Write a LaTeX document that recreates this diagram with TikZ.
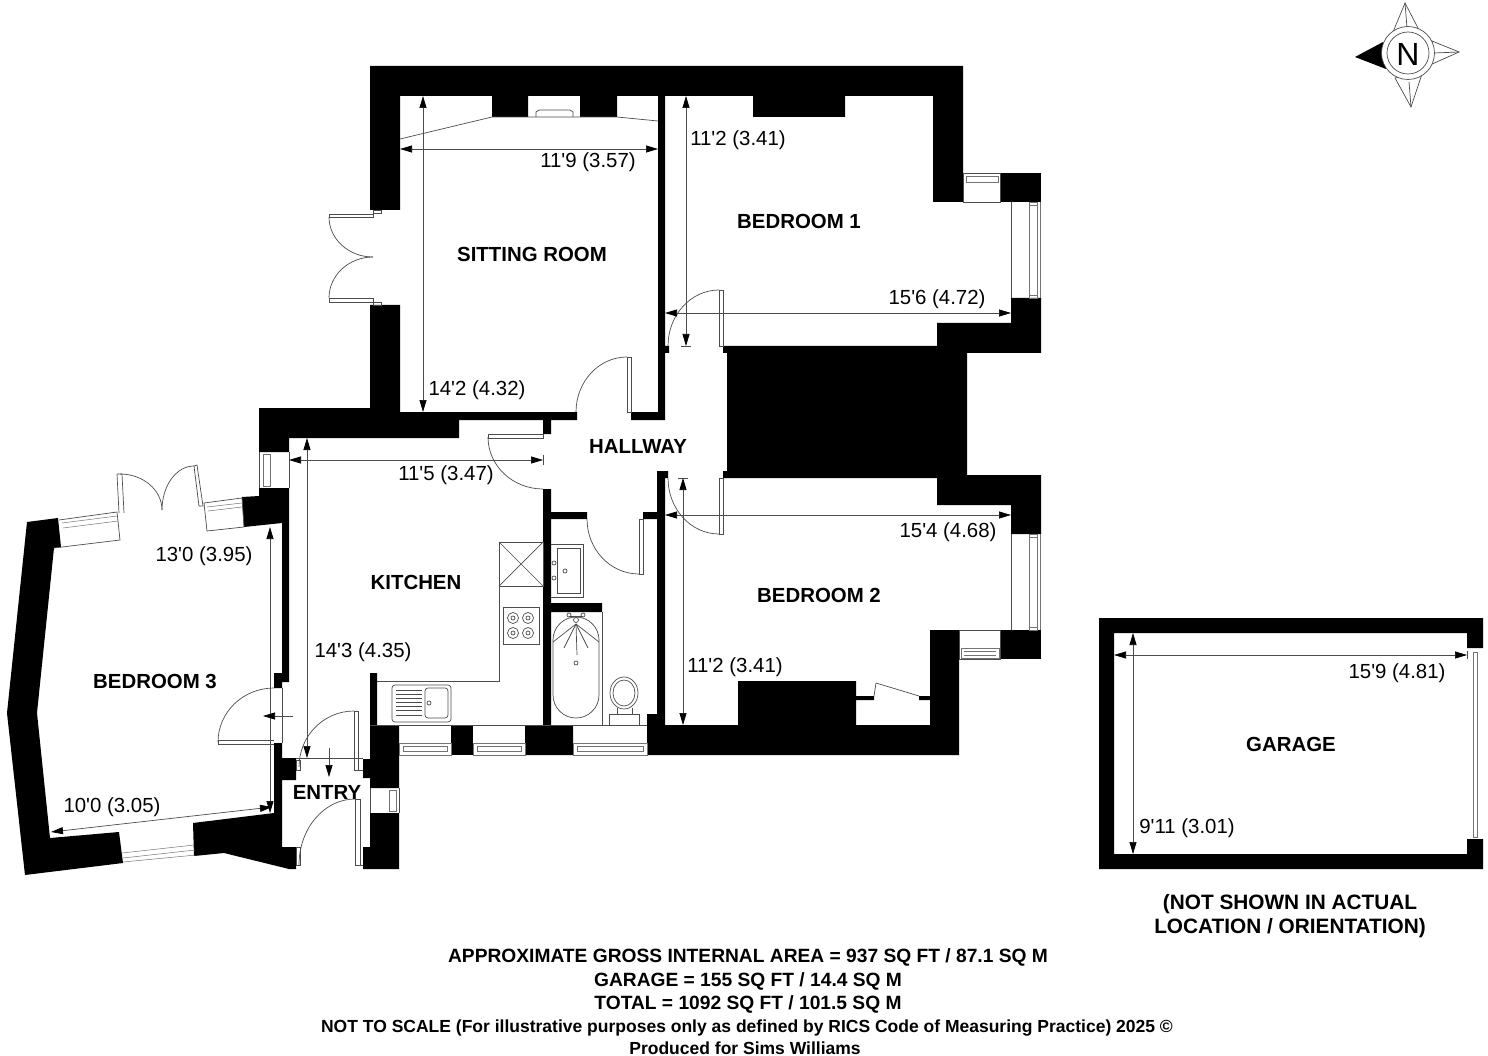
\documentclass[tikz,border=0pt]{standalone}
\usepackage{fontspec}
\setmainfont{Liberation Sans}
\usetikzlibrary{arrows.meta}
\newcommand{\ft}{\textquotesingle}
\tikzset{
	wall/.style={fill=black,draw=none},
	plan/.style={draw=black!70,line width=0.7pt},
	glazing/.style={draw=black!55,line width=0.5pt},
	dimline/.style={draw=black!70,line width=0.7pt,{Triangle[length=12pt,width=7pt,black]}-{Triangle[length=12pt,width=7pt,black]}},
	doorline/.style={draw=black!70,line width=0.7pt,-{Triangle[length=12pt,width=7pt,black]}},
	roomlabel/.style={font=\fontsize{20.4}{24}\bfseries\selectfont,inner sep=0pt},
	dimlabel/.style={font=\fontsize{20.4}{24}\selectfont,inner sep=0pt,yshift=-1.5pt},
	notelabel/.style={font=\fontsize{19.2}{24}\bfseries\selectfont,inner sep=0pt,align=center,yshift=-2pt}
}

\begin{document}
\begin{tikzpicture}[x=1pt,y=-1pt]
	\useasboundingbox (0,0) rectangle (1488,1056);

	\begin{scope}
		\fill[wall] (370,66) -- (963,66) -- (963,202) -- (933,202) -- (933,96) -- (845,96) -- (845,117) -- (753,117) -- (753,96) -- (617,96) -- (617,117) -- (580,117) -- (580,96) -- (528,96) -- (528,117) -- (492,117) -- (492,96) -- (400,96) -- (400,210) -- (370,210) -- cycle;
		\fill[wall] (658,96) -- (665,96) -- (665,346) -- (669,346) -- (669,353) -- (665,353) -- (665,420) -- (631,420) -- (631,412) -- (658,412) -- cycle;
		\fill[wall] (370,305) -- (400,305) -- (400,412) -- (577,412) -- (577,420) -- (551,420) -- (551,434) -- (543,434) -- (543,420) -- (459,420) -- (459,438) -- (289,438) -- (289,452) -- (259,452) -- (259,408) -- (370,408) -- cycle;
		\fill[wall] (723,346) -- (937,346) -- (937,323) -- (1011,323) -- (1011,298) -- (1041,298) -- (1041,353) -- (967,353) -- (967,475) -- (1041,475) -- (1041,534) -- (1011,534) -- (1011,505) -- (937,505) -- (937,478) -- (723,478) -- (723,471) -- (727,471) -- (727,353) -- (723,353) -- cycle;
		\fill[wall] (1000,173) rectangle (1041,202);
		\fill[wall] (1000,630) rectangle (1041,659);
		\fill[wall] (657,471) -- (668,471) -- (668,478) -- (665,478) -- (665,725) -- (738,725) -- (738,681) -- (856,681) -- (856,696) -- (874,696) -- (874,700) -- (856,700) -- (856,725) -- (930,725) -- (930,700) -- (919,700) -- (919,696) -- (930,696) -- (930,630) -- (959,630) -- (959,755) -- (647,755) -- (647,714) -- (657,714) -- (657,519) -- (643,519) -- (643,512) -- (657,512) -- cycle;
		\fill[wall] (543,489) -- (551,489) -- (551,512) -- (587,512) -- (587,519) -- (551,519) -- (551,603) -- (602,603) -- (602,612) -- (551,612) -- (551,725) -- (573,725) -- (573,755) -- (525,755) -- (525,725) -- (543,725) -- cycle;
		\fill[wall] (451,725) rectangle (473,755);
		\fill[wall] (370,673) -- (377,673) -- (377,725) -- (399,725) -- (399,788) -- (370,788) -- (370,778) -- (363,778) -- (363,759) -- (370,759) -- cycle;
		\fill[wall] (370,813) -- (399,813) -- (399,869) -- (363,869) -- (363,847) -- (370,847) -- cycle;
		\fill[wall] (259,488) -- (289,488) -- (289,682) -- (282,682) -- (282,688) -- (274,688) -- (274,673) -- (282,673) -- (282,523) -- (244,527) -- (242,497) -- (259,496) -- cycle;
		\fill[wall] (274,743) -- (282,743) -- (282,758) -- (296,758) -- (296,780) -- (282,780) -- (282,847) -- (296,847) -- (296,869) -- (289,869) -- (224,853) -- (194,856) -- (193,823) -- (274,813) -- cycle;
		\fill[wall] (27,522) -- (58,518) -- (61,547) -- (54,548) -- (37,713) -- (50,838) -- (119,832) -- (123,863) -- (25,875) -- (7,713) -- cycle;
		\fill[wall,even odd rule] (1099,618) -- (1483,618) -- (1483,648) -- (1467,648) -- (1467,633) -- (1114,633) -- (1114,854) -- (1467,854) -- (1467,839) -- (1483,839) -- (1483,869) -- (1099,869) -- cycle;
	\end{scope}

	\begin{scope}[every path/.style={plan}]
		\draw (400,139) -- (492,117) -- (617,117) -- (658,121);
		\draw (536,117) -- (536,112) to[bend left=20] (539,110) -- (570,110) to[bend left=20] (573,112) -- (573,117);

		\draw (329,214) rectangle (373,217);
		\draw (373,210) rectangle (381,213);
		\draw (329,298) rectangle (373,302);
		\draw (373,302) rectangle (381,305);
		\draw (329,217) arc[start angle=180,end angle=90,x radius=44,y radius=40];
		\draw (329,298) arc[start angle=180,end angle=270,x radius=44,y radius=41];

		\draw (627,357) rectangle (631,412);
		\draw (576,412) arc[start angle=180,end angle=270,x radius=51,y radius=55];
		\draw (719,290) rectangle (723,346);
		\draw (668,346) arc[start angle=180,end angle=270,x radius=51,y radius=56];
		\draw (719,478) rectangle (723,534);
		\draw (668,478) arc[start angle=180,end angle=90,x radius=51,y radius=56];
		\draw (639,519) rectangle (643,574);
		\draw (587,519) arc[start angle=180,end angle=90,x radius=52,y radius=55];
		\draw (488,434) rectangle (543,438);
		\draw (488,437) arc[start angle=180,end angle=90,x radius=55,y radius=52];

		\draw (963,173) rectangle (1000,202);
		\draw[glazing] (966,176) rectangle (998,182);
		\draw (1011,202) -- (1011,298);
		\draw[glazing] (1029,202) rectangle (1037,298);
		\draw[glazing] (1029,205) -- (1037,205) (1029,295) -- (1037,295);
		\draw[glazing] (1040,202) -- (1040,298);
		\draw (1011,534) -- (1011,630);
		\draw[glazing] (1029,534) rectangle (1037,630);
		\draw[glazing] (1029,537) -- (1037,537) (1029,627) -- (1037,627);
		\draw[glazing] (1040,534) -- (1040,630);
		\draw (959,630) rectangle (1000,659);
		\draw[glazing] (961,648) rectangle (999,658);
		\draw[glazing] (964,651) -- (996,651) (964,655) -- (996,655);

		\draw (876,683) -- (919,696);
		\draw (874,696) -- (876,683);

		\draw (370,725) -- (647,725);
		\draw[glazing] (399,743) rectangle (451,755);
		\draw[glazing] (403,746) rectangle (447,751);
		\draw[glazing] (473,743) rectangle (525,755);
		\draw[glazing] (477,746) rectangle (521,751);
		\draw[glazing] (573,743) rectangle (647,755);
		\draw[glazing] (577,746) rectangle (643,751);

		\draw (377,681) -- (499,681) -- (499,542);
		\draw (499,542) rectangle (543,586);
		\draw (499,542) -- (543,586) (499,586) -- (543,542);
		\draw (503,607) rectangle (539,644);
		\foreach \bx in {513,528}
			\foreach \by in {618,633} {
				\draw (\bx,\by) circle[radius=5.5];
				\draw (\bx,\by) circle[radius=2];
			}
		\draw[rounded corners=3pt] (392,685) rectangle (451,722);
		\draw[rounded corners=3pt] (425,688) rectangle (448,718);
		\foreach \ry in {690,694,698,702,706,710,715}
			\draw (396,\ry) -- (422,\ry);
		\draw (429,703) circle[radius=2];

		\draw (551,544) -- (583,544) -- (583,597) -- (551,597);
		\draw (557,548) rectangle (580,593);
		\draw (554,563) circle[radius=2];
		\draw (554,578) circle[radius=2];
		\draw (565,571) circle[radius=2];

		\draw (602,612) -- (602,725);
		\draw (553,640) arc[start angle=180,end angle=360,x radius=23,y radius=23] -- (599,695) arc[start angle=0,end angle=180,x radius=23,y radius=23] -- cycle;
		\foreach \sx/\sy in {553/642,564/648,577/655,588/648,599/642}
			\draw (576,624) -- (\sx,\sy);
		\draw (569,616) -- (583,616);
		\draw (569,615) circle[radius=2];
		\draw (583,615) circle[radius=2];
		\draw (576,620) circle[radius=2.5];
		\draw (576,663) circle[radius=2];
		\draw (624,693) circle[x radius=14,y radius=16];
		\draw (624,693) circle[x radius=11,y radius=13];
		\draw (617,708) -- (617,714) (632,708) -- (632,714);
		\draw (609,725) -- (609,714) -- (639,714) -- (639,725);

		\draw (117,474) -- (122,474) -- (124,513);
		\draw (117,474) -- (119,513);
		\draw (120,474) arc[start angle=270,end angle=360,x radius=42,y radius=36];
		\draw (194,466) -- (197,465) -- (203,506) -- (199,506) -- cycle;
		\draw (194,466) arc[start angle=270,end angle=180,x radius=32,y radius=44];
		\draw (59,520) -- (117,512) -- (120,540) -- (54,548);
		\draw[glazing] (62,523) -- (117,516);
		\draw[glazing] (63,528) -- (118,521);
		\draw (204,503) -- (242,498) -- (244,527) -- (207,531) -- cycle;
		\draw[glazing] (207,507) -- (242,503);
		\draw[glazing] (208,511) -- (242,507);
		\draw[glazing] (122,853) -- (194,845);
		\draw[glazing] (123,862) -- (196,855);
		\draw[glazing] (123,858) -- (195,850);

		\draw (218,740) -- (274,740) (218,744) -- (274,744) (218,740) -- (218,744);
		\draw (218,742) arc[start angle=180,end angle=270,x radius=56,y radius=54];
		\draw (282,688) -- (282,743);
		\draw (296,758) -- (363,758);

		\draw (354,711) rectangle (358,770);
		\draw (299,767) arc[start angle=180,end angle=270,x radius=55,y radius=56];
		\draw (296,760) rectangle (300,770);
		\draw (358,770) -- (363,770);
		\draw (355,799) rectangle (360,865);
		\draw (355,799) arc[start angle=270,end angle=180,x radius=56,y radius=66];
		\draw (296,847) rectangle (300,865);
		\draw (360,865) -- (363,865);

		\draw (259,452) -- (259,488) (289,452) -- (289,488);
		\draw[glazing] (263,454) rectangle (270,486);
		\draw (370,788) -- (370,813) (399,788) -- (399,813);
		\draw[glazing] (389,790) rectangle (396,811);

		\draw[glazing] (1473,652) rectangle (1477,837);
		\draw (1467,651) -- (1467,659);
		\draw (543,455) -- (543,465);
		\draw (681,346) -- (691,346);
		\draw (678,478) -- (688,478);
	\end{scope}

	\begin{scope}
		\coordinate (sitv1) at (423,96);
		\coordinate (sitv2) at (423,412);
		\coordinate (sith1) at (400,149);
		\coordinate (sith2) at (658,149);
		\coordinate (bedav1) at (686,96);
		\coordinate (bedav2) at (686,346);
		\coordinate (bedah1) at (665,313);
		\coordinate (bedah2) at (1011,313);
		\coordinate (bedbv1) at (683,478);
		\coordinate (bedbv2) at (683,725);
		\coordinate (bedbh1) at (665,515);
		\coordinate (bedbh2) at (1011,515);
		\coordinate (kitv1) at (307,438);
		\coordinate (kitv2) at (307,758);
		\coordinate (kith1) at (289,460);
		\coordinate (kith2) at (543,460);
		\coordinate (bedcv1) at (270,527);
		\coordinate (bedcv2) at (270,813);
		\coordinate (bedch1) at (51,832);
		\coordinate (bedch2) at (272,807);
		\coordinate (garv1) at (1133,633);
		\coordinate (garv2) at (1133,854);
		\coordinate (garh1) at (1114,655);
		\coordinate (garh2) at (1467,655);
		\coordinate (doora1) at (293,716);
		\coordinate (doora2) at (263,716);
		\coordinate (doorb1) at (329,748);
		\coordinate (doorb2) at (329,777);

		\path (sitv1) edge[dimline] (sitv2);
		\path (sith1) edge[dimline] (sith2);
		\path (bedav1) edge[dimline] (bedav2);
		\path (bedah1) edge[dimline] (bedah2);
		\path (bedbv1) edge[dimline] (bedbv2);
		\path (bedbh1) edge[dimline] (bedbh2);
		\path (kitv1) edge[dimline] (kitv2);
		\path (kith1) edge[dimline] (kith2);
		\path (bedcv1) edge[dimline] (bedcv2);
		\path (bedch1) edge[dimline] (bedch2);
		\path (garv1) edge[dimline] (garv2);
		\path (garh1) edge[dimline] (garh2);
		\path (doora1) edge[doorline] (doora2);
		\path (doorb1) edge[doorline] (doorb2);
	\end{scope}

	\begin{scope}[every node/.style={roomlabel}]
		\node (sitname) at (532,254) {SITTING ROOM};
		\node (bedaname) at (799,221) {BEDROOM 1};
		\node (hallname) at (638,446) {HALLWAY};
		\node (kitname) at (416,582) {KITCHEN};
		\node (bedbname) at (819,595) {BEDROOM 2};
		\node (bedcname) at (155,681) {BEDROOM 3};
		\node (entname) at (327,792) {ENTRY};
		\node (garname) at (1291,744) {GARAGE};
	\end{scope}

	\begin{scope}[every node/.style={dimlabel}]
		\node (sitw) at (588,161) {11\ft9 (3.57)};
		\node (sitl) at (477,389) {14\ft2 (4.32)};
		\node (bedal) at (738,139) {11\ft2 (3.41)};
		\node (bedaw) at (937,298) {15\ft6 (4.72)};
		\node (bedbw) at (948,531) {15\ft4 (4.68)};
		\node (bedbl) at (735,666) {11\ft2 (3.41)};
		\node (kitw) at (446,474) {11\ft5 (3.47)};
		\node (kitl) at (363,651) {14\ft3 (4.35)};
		\node (bedcl) at (204,555) {13\ft0 (3.95)};
		\node (bedcw) at (112,806) {10\ft0 (3.05)};
		\node (garw) at (1397,672) {15\ft9 (4.81)};
		\node (garl) at (1187,827) {9\ft11 (3.01)};
	\end{scope}

	\begin{scope}[every node/.style={notelabel}]
		\node[font=\fontsize{20.8}{24}\bfseries\selectfont] (notshown) at (1290,914) {(NOT SHOWN IN ACTUAL\\LOCATION / ORIENTATION)};
		\node (areaa) at (748,955) {APPROXIMATE GROSS INTERNAL AREA = 937 SQ FT / 87.1 SQ M};
		\node (areab) at (748,979) {GARAGE = 155 SQ FT / 14.4 SQ M};
		\node (areac) at (748,1002) {TOTAL = 1092 SQ FT / 101.5 SQ M};
		\node[font=\fontsize{17.5}{21}\bfseries\selectfont] (scalea) at (747,1026) {NOT TO SCALE (For illustrative purposes only as defined by RICS Code of Measuring Practice) 2025 \textcopyright};
		\node[font=\fontsize{17.5}{21}\bfseries\selectfont] (scaleb) at (745,1046) {Produced for Sims Williams};
	\end{scope}

	\begin{scope}
		\draw[plan,fill=white] (1405,3) -- (1393,32) -- (1419,30) -- cycle;
		\draw[plan,fill=white] (1459,52) -- (1432,41) -- (1430,65) -- cycle;
		\draw[plan,fill=white] (1411,107) -- (1395,78) -- (1422,74) -- cycle;
		\draw[plan] (1405,3) -- (1407,28) (1459,52) -- (1434,53) (1411,107) -- (1409,82);
		\fill[wall] (1355,57) -- (1383,42) -- (1386,69) -- cycle;
		\draw[plan,fill=white] (1408,53) circle[radius=26.5];
		\draw[plan] (1408,53) circle[radius=21];
		\node[font=\fontsize{32}{34}\selectfont,inner sep=0pt] (north) at (1408,54) {N};
	\end{scope}
\end{tikzpicture}
\end{document}
